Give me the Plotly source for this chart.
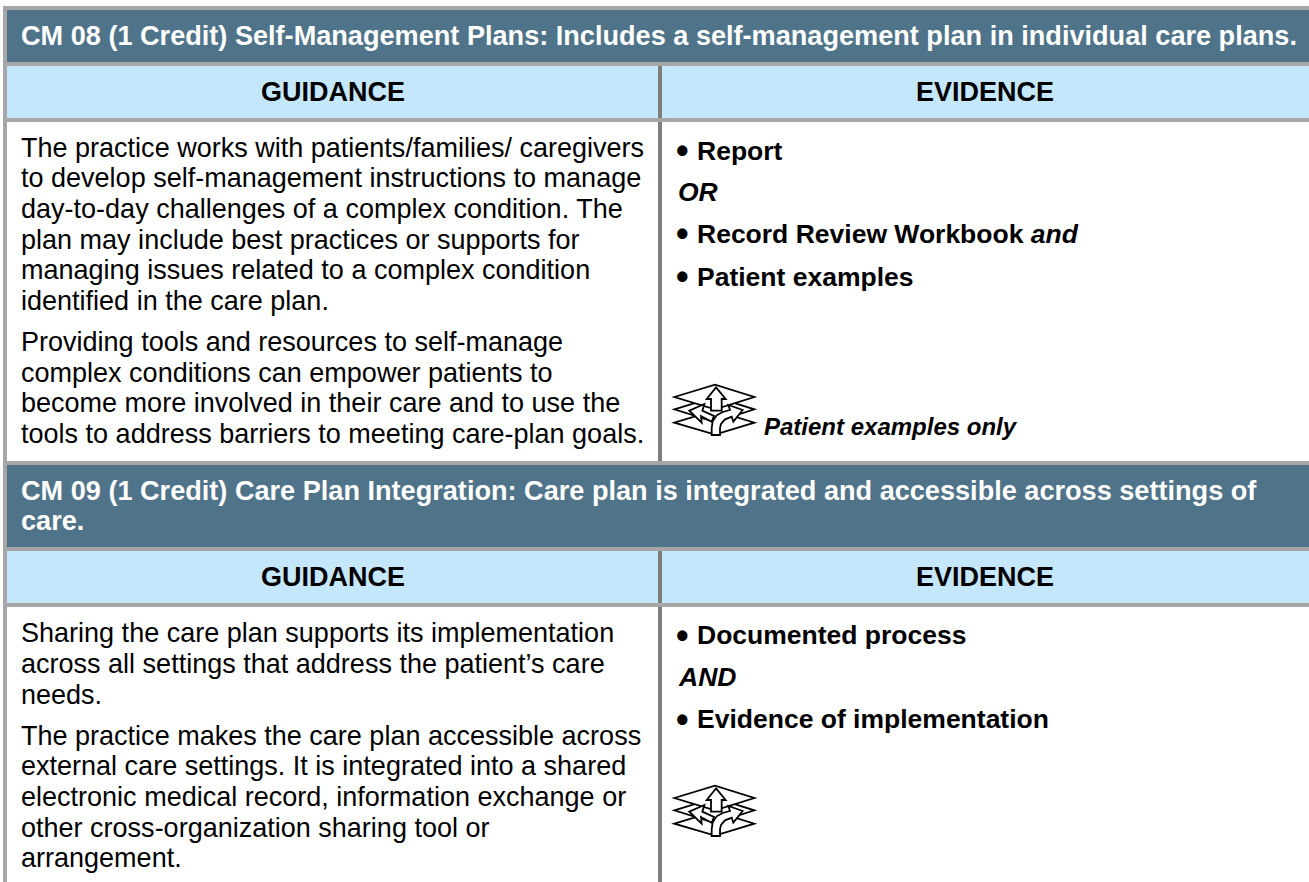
import plotly.graph_objects as go

W, H = 1309, 882
DARK = "#4f7389"
LIGHT = "#c5e7fb"
GREY = "#a6a6a6"
VLINE = "#7f7c7c"
FONT = "Liberation Sans"

titles = [
    ["CM 08 (1 Credit) Self-Management Plans: Includes a self-management plan in individual care plans."],
    ["CM 09 (1 Credit) Care Plan Integration: Care plan is integrated and accessible across settings of", "care."],
]
title_baselines = [[45], [500, 530]]
col_heads = ["GUIDANCE", "EVIDENCE"]
head_baselines = [101.5, 586.5]

guidance_1 = [
    "The practice works with patients/families/ caregivers",
    "to develop self-management instructions to manage",
    "day-to-day challenges of a complex condition. The",
    "plan may include best practices or supports for",
    "managing issues related to a complex condition",
    "identified in the care plan.",
    "Providing tools and resources to self-manage",
    "complex conditions can empower patients to",
    "become more involved in their care and to use the",
    "tools to address barriers to meeting care-plan goals.",
]
guidance_1_base = [157, 187.5, 218, 249, 279.5, 310, 351, 381.7, 412.5, 443]
guidance_2 = [
    "Sharing the care plan supports its implementation",
    "across all settings that address the patient’s care",
    "needs.",
    "The practice makes the care plan accessible across",
    "external care settings. It is integrated into a shared",
    "electronic medical record, information exchange or",
    "other cross-organization sharing tool or",
    "arrangement.",
]
guidance_2_base = [642, 673, 704, 745, 775.5, 806.5, 837, 867.5]

evidence_1 = [("•", "Report"), (None, "<i>OR</i>"), ("•", "Record Review Workbook <i>and</i>"), ("•", "Patient examples")]
evidence_1_base = [160, 201, 243, 286]
evidence_2 = [("•", "Documented process"), (None, "<i>AND</i>"), ("•", "Evidence of implementation")]
evidence_2_base = [644.5, 686, 728.5]
icon_note = "Patient examples only"
icon_note_base = 435

shapes = []
annotations = []


def rect(x0, y0, x1, y1, c):
    shapes.append(dict(type="rect", xref="x", yref="y", x0=x0, x1=x1, y0=y0, y1=y1,
                       fillcolor=c, line=dict(width=0), layer="below"))


def text(x, base, s, size=27, bold=False, italic=False, color="#000000", anchor="left"):
    if bold:
        s = f"<b>{s}</b>"
    if italic:
        s = f"<i>{s}</i>"
    annotations.append(dict(x=x, y=base - 0.34 * size, xref="x", yref="y", text=s, showarrow=False,
                            xanchor=anchor, yanchor="middle", align=anchor, borderpad=0,
                            font=dict(family=FONT, size=size, color=color)))


def icon(dy):
    def P(pts, fill="white"):
        d = ""
        for i, (x, y) in enumerate(pts):
            d += ("M" if i == 0 else "L") + f"{670 + x / 3:.2f},{382 + dy + y / 3:.2f} "
        shapes.append(dict(type="path", path=d + "Z", xref="x", yref="y",
                           fillcolor=fill, line=dict(color="#000000", width=1.8)))
    # three stacked planes
    P([(13, 122), (135, 85), (253, 122), (135, 158)])
    P([(13, 82), (135, 45), (253, 82), (135, 120)])
    P([(13, 45), (135, 8), (253, 45), (135, 82)])
    # up arrow
    P([(138, 16), (167, 51), (155, 51), (155, 86), (123, 86), (123, 51), (110, 51)])
    # left arrow
    P([(58, 86), (103, 66), (97, 86), (132, 102), (125, 119), (93, 102), (95, 122)])
    # right arrow with curved stem
    P([(218, 84), (175, 69), (180, 84), (158, 90), (140, 100), (128, 118), (125, 138), (125, 159),
       (150, 159), (150, 138), (153, 126), (165, 112), (185, 104), (190, 119)])


# outer frame
rect(3, 6, W, H, GREY)

# first block
rect(7, 10, W, 62, DARK)
rect(7, 66, W, 118, LIGHT)
rect(7, 122, W, 461, "white")
# second block
rect(7, 465, W, 547, DARK)
rect(7, 551, W, 603, LIGHT)
rect(7, 607, W, H, "white")
# column rules
rect(658, 66, 662, 118, VLINE)
rect(658, 122, 662, 461, VLINE)
rect(658, 551, 662, 603, VLINE)
rect(658, 607, 662, H, VLINE)

for lines, bases in zip(titles, title_baselines):
    for s, b in zip(lines, bases):
        text(19.5, b, s, size=27.12, bold=True, color="white")

for b in head_baselines:
    text(333, b, col_heads[0], bold=True, anchor="center")
    text(985, b, col_heads[1], bold=True, anchor="center")

for s, b in zip(guidance_1 + guidance_2, guidance_1_base + guidance_2_base):
    text(19.5, b, s, size=27.03)

for (bul, s), b in zip(evidence_1 + evidence_2, evidence_1_base + evidence_2_base):
    if bul:
        text(674.7, b + 2.8, bul, size=36, bold=True)
        text(696, b, s, size=26.5, bold=True)
    else:
        text(676.5, b, s, size=26.5, bold=True)

text(763, icon_note_base, icon_note, size=24, bold=True, italic=True)
icon(0)
icon(401)

fig = go.Figure()
fig.update_layout(
    width=W, height=H,
    margin=dict(l=0, r=0, t=0, b=0),
    paper_bgcolor="white", plot_bgcolor="white",
    xaxis=dict(range=[0, W], visible=False, fixedrange=True),
    yaxis=dict(range=[H, 0], visible=False, fixedrange=True),
    shapes=shapes, annotations=annotations, showlegend=False,
)
fig.write_html("out.html", config=dict(displayModeBar=False),
               post_script="document.body.style.margin='0';document.body.style.overflow='hidden';")
